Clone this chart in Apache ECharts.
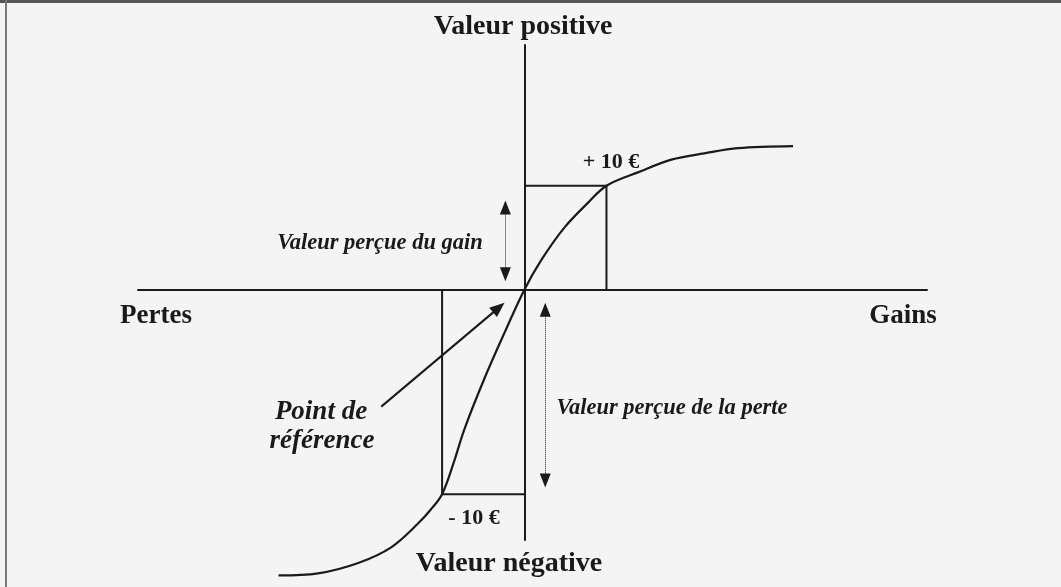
<!DOCTYPE html>
<html>
<head>
<meta charset="utf-8">
<script src="https://cdn.jsdelivr.net/npm/echarts@6/dist/echarts.min.js"></script>
<style>
html, body { margin: 0; padding: 0; background: #f4f4f4; }
#main { width: 1061px; height: 587px; }
</style>
</head>
<body>
<div id="main"></div>
<script>
// courbe de valeur : x = gain/perte en euros, y = valeur perçue
var gainsX = [0, 2.1, 4.9, 7.8, 10, 13.9, 17.9, 21.9, 26, 32.7];
var gainsY = [0, 2.9, 6.0, 8.4, 10, 11.3, 12.5, 13.1, 13.6, 13.8];
var pertesX = [-29.9, -25.1, -20.2, -16.2, -12.9, -11.4, -10, -8.6, -7.3, -4.9, -2.4];
var pertesY = [-27.4, -27.2, -26.2, -24.7, -22.4, -21.1, -19.6, -16.6, -13.4, -8.6, -4.1];

// +10 € et -10 € et leur valeur perçue
var gainRef = [10, 10];
var perteRef = [-10, -19.6];

var FONT = '"Liberation Serif", "Times New Roman", serif';
var INK = '#1a1a1a';

var courbe = [];
pertesX.forEach(function (x, i) { courbe.push([x, pertesY[i]]); });
gainsX.forEach(function (x, i) { courbe.push([x, gainsY[i]]); });

var chart = echarts.init(document.getElementById('main'));

function txt(text, x, y, size, italic) {
	return {
		type: 'text',
		x: x,
		y: y,
		style: {
			text: text,
			font: (italic ? 'italic ' : '') + 'bold ' + size + 'px ' + FONT,
			fill: INK,
			align: 'center',
			verticalAlign: 'middle'
		}
	};
}

chart.setOption({
	backgroundColor: '#f4f4f4',
	animation: false,
	grid: { left: 138, right: 134, top: 45, bottom: 47 },
	xAxis: {
		type: 'value', min: -47, max: 49,
		axisLine: { onZero: true, lineStyle: { color: INK, width: 2 } },
		axisTick: { show: false }, axisLabel: { show: false }, splitLine: { show: false }
	},
	yAxis: {
		type: 'value', min: -24, max: 23.5,
		axisLine: { onZero: true, lineStyle: { color: INK, width: 2 } },
		axisTick: { show: false }, axisLabel: { show: false }, splitLine: { show: false }
	},
	series: [
		{
			type: 'line',
			data: courbe,
			smooth: 0.35,
			symbol: 'none',
			clip: false,
			lineStyle: { color: INK, width: 2.2 }
		},
		{
			// cadre du gain
			type: 'line',
			data: [[0, gainRef[1]], gainRef, [gainRef[0], 0]],
			symbol: 'none',
			lineStyle: { color: INK, width: 2 },
			markLine: {
				silent: true,
				symbol: ['triangle', 'triangle'],
				symbolSize: [11, 14],
				label: { show: false },
				lineStyle: { color: INK, width: 1, type: 'dotted' },
				data: [
					[{ coord: [-2.3, 7.9] }, { coord: [-2.3, 1.5] }],
					[{ coord: [2.55, -1.9] }, { coord: [2.55, -18.3] }]
				]
			}
		},
		{
			// cadre de la perte
			type: 'line',
			data: [[perteRef[0], 0], perteRef, [0, perteRef[1]]],
			symbol: 'none',
			lineStyle: { color: INK, width: 2 },
			markLine: {
				silent: true,
				symbol: ['none', 'triangle'],
				symbolSize: [12, 15],
				label: { show: false },
				lineStyle: { color: INK, width: 2, type: 'solid' },
				data: [
					[{ coord: [-17.4, -11.2] }, { coord: [-3.1, -1.7] }]
				]
			}
		}
	],
	graphic: [
		{ type: 'rect', shape: { x: 0, y: 0, width: 1061, height: 3 }, style: { fill: '#555' } },
		{ type: 'rect', shape: { x: 5, y: 0, width: 2, height: 587 }, style: { fill: '#777' } },
		txt('Valeur positive', 523, 27, 28),
		txt('Valeur négative', 509, 564, 28),
		txt('Pertes', 156, 316, 27),
		txt('Gains', 903, 316, 27),
		txt('+ 10 €', 611, 162, 22),
		txt('- 10 €', 474, 518, 22),
		txt('Valeur perçue du gain', 380, 243, 22.5, true),
		txt('Valeur perçue de la perte', 672, 408, 22.5, true),
		txt('Point de', 321, 412, 27, true),
		txt('référence', 322, 441, 27, true)
	]
});
</script>
</body>
</html>
